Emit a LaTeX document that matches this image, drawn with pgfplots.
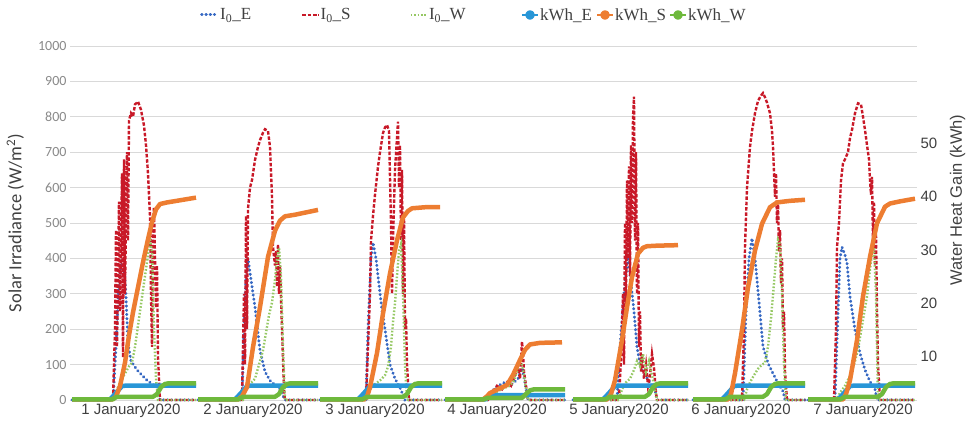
\documentclass[border=0pt]{standalone}
\usepackage{pgfplots}
\pgfplotsset{compat=1.18}
\usepackage{fontspec}
\setmainfont{Liberation Sans}
\newfontfamily\carlito{Carlito}
\newfontfamily\legendfont{Liberation Serif}

\definecolor{IEblue}{RGB}{55,105,195}
\definecolor{ISred}{RGB}{200,25,40}
\definecolor{IWgreen}{RGB}{150,200,100}
\definecolor{kEblue}{RGB}{40,150,215}
\definecolor{kSorange}{RGB}{237,125,49}
\definecolor{kWgreen}{RGB}{110,185,60}
\definecolor{GridGrey}{RGB}{217,217,217}
\definecolor{TickGrey}{RGB}{137,137,137}
\definecolor{TextDark}{RGB}{64,64,64}

\tikzset{
  ieline/.style={IEblue, line width=3pt, dash pattern=on 0.4pt off 3.8pt, line cap=round},
  isline/.style={ISred, line width=2.4pt, dash pattern=on 3.5pt off 1.8pt},
  iwline/.style={IWgreen, line width=2.4pt, dash pattern=on 1.6pt off 1.8pt},
  kwh/.style={line width=4.5pt, line join=round},
}
\pgfplotsset{
  shortlegend/.style={legend image code/.code={\draw[##1] (0pt,0pt) -- (16pt,0pt);}},
  kwhlegend/.style={legend image code/.code={%
    \draw[##1, line width=2pt] (0pt,0pt) -- (16pt,0pt);
    \fill[##1] (8pt,0pt) circle (2.5pt);}},
}

\begin{document}
\begin{tikzpicture}
\useasboundingbox (0,0) rectangle (970pt,427pt);
% left axis: irradiance
\begin{axis}[
  at={(70pt,27pt)}, anchor=south west, scale only axis,
  width=847pt, height=354pt,
  xmin=70, xmax=917, ymin=0, ymax=1000,
  ytick={0,100,...,1000},
  xtick={131,253,375,497,619,741,863},
  xticklabels={1 January2020,2 January2020,3 January2020,4 January2020,5 January2020,6 January2020,7 January2020},
  ymajorgrids, grid style={GridGrey, line width=0.8pt},
  axis line style={draw=none}, major tick length=0pt,
  clip=false, unbounded coords=jump,
  /pgf/number format/assume math mode=true, /pgf/number format/1000 sep={},
  yticklabel style={font=\carlito\fontsize{14}{14}\selectfont, text=TickGrey},
  xticklabel style={font=\fontsize{15}{15}\selectfont, text=TextDark},
  ylabel={Solar Irradiance (W/m\textsuperscript{2})},
  ylabel style={font=\carlito\fontsize{18.5}{18.5}\selectfont, text=TextDark,
    at={(axis description cs:-0.0645,0.5)}, anchor=center},
]
\addplot[ieline] coordinates {
(72,0) (113,0) (116,150) (119,330) (122,400) (124,390) (126,290) (128,160) (131,110) (137,85) (142,70) (147,56) (152,45) (157,37) (160,0) (196,0) (197,nan)
(198,0) (242,0) (244,200) (246,350) (248,400) (251,340) (255,262) (260,140) (265,80) (270,55) (275,42) (280,30) (285,0) (318,0) (319,nan)
(320,0) (366,0) (368,200) (371,400) (373,445) (376,400) (378,350) (382,254) (385,200) (387,160) (390,100) (395,60) (400,35) (405,0) (442,0) (443,nan)
(445,0) (488,0) (492,25) (498,40) (505,50) (512,45) (518,60) (522,90) (525,50) (528,0) (565,0) (566,nan)
(573,0) (617,0) (620,150) (624,300) (628,410) (631,330) (634,250) (637,150) (640,100) (645,70) (650,50) (655,30) (657,0) (688,0) (689,nan)
(693,0) (743,0) (746,250) (749,400) (752,457) (755,400) (757,340) (760,246) (763,151) (768,104) (773,75) (778,47) (783,25) (785,0) (805,0) (806,nan)
(808,0) (835,0) (838,250) (840,400) (842,432) (845,410) (847,386) (850,292) (855,198) (860,132) (865,85) (870,52) (875,30) (877,0) (915,0)
};
\addplot[isline] coordinates {
(72,0) (113,0) (115,200) (116,480) (117,150) (119,560) (120,250) (122,640) (123,120) (124,680) (125,300) (127,700) (128,450) (129,790) (131,810) (133,800) (135,835) (138,843) (141,820) (144,775) (146,720) (148,640) (150,520) (151,300) (152,150) (153,480) (154,545) (155,400) (156,260) (157,380) (158,120) (160,0) (196,0) (197,nan)
(198,0) (242,0) (244,300) (245,100) (246,520) (247,200) (248,540) (250,600) (252,621) (255,678) (258,715) (260,734) (263,755) (265,765) (268,760) (270,715) (272,574) (273,432) (275,380) (276,420) (277,320) (278,440) (279,300) (280,380) (282,200) (284,30) (285,0) (318,0) (319,nan)
(320,0) (366,0) (368,150) (370,300) (371,450) (373,520) (375,580) (378,659) (380,700) (383,754) (385,770) (387,777) (389,760) (391,500) (392,300) (393,450) (395,650) (397,740) (398,786) (399,600) (400,720) (401,450) (402,650) (403,300) (404,520) (405,200) (406,230) (407,100) (409,0) (442,0) (443,nan)
(445,0) (488,0) (492,20) (497,40) (502,30) (507,50) (511,40) (515,70) (518,90) (520,60) (522,165) (523,130) (524,80) (526,40) (528,0) (565,0) (566,nan)
(573,0) (619,0) (621,120) (623,300) (624,100) (625,500) (626,250) (627,620) (628,400) (629,660) (630,350) (631,720) (632,500) (633,800) (634,857) (635,450) (636,700) (637,300) (638,500) (639,150) (640,250) (641,80) (642,130) (644,60) (646,100) (648,40) (650,70) (652,130) (654,90) (656,20) (657,0) (688,0) (689,nan)
(693,0) (742,0) (744,200) (745,432) (747,600) (750,715) (752,760) (755,810) (758,845) (761,860) (763,867) (765,855) (767,840) (770,810) (772,760) (773,715) (775,574) (776,640) (777,500) (778,560) (779,420) (780,480) (781,330) (782,400) (783,200) (784,250) (785,80) (787,0) (805,0) (806,nan)
(808,0) (834,0) (836,200) (837,432) (839,500) (841,620) (843,669) (845,680) (848,700) (850,740) (852,763) (855,810) (858,838) (861,835) (863,800) (865,763) (867,720) (869,680) (870,621) (871,580) (872,630) (873,450) (874,560) (875,380) (876,470) (877,250) (878,100) (880,0) (915,0)
};
\addplot[iwline] coordinates {
(72,0) (114,0) (117,30) (121,55) (125,75) (129,95) (132,105) (135,150) (138,210) (141,270) (144,330) (147,390) (150,452) (152,420) (154,200) (156,60) (158,0) (196,0) (197,nan)
(198,0) (243,0) (246,30) (250,45) (255,60) (260,110) (263,140) (266,190) (269,240) (272,275) (275,340) (277,400) (279,430) (281,350) (283,150) (285,0) (318,0) (319,nan)
(320,0) (367,0) (370,30) (375,45) (380,55) (385,70) (388,94) (391,150) (393,220) (395,273) (397,350) (399,420) (401,440) (403,300) (405,100) (407,0) (442,0) (443,nan)
(445,0) (488,0) (492,15) (498,25) (505,35) (510,40) (514,55) (517,80) (520,113) (522,100) (524,70) (526,30) (528,0) (565,0) (566,nan)
(573,0) (619,0) (622,30) (626,50) (630,60) (634,85) (637,110) (640,95) (643,130) (646,80) (649,110) (652,70) (655,30) (657,0) (688,0) (689,nan)
(693,0) (744,0) (747,30) (750,50) (754,70) (758,88) (762,100) (765,105) (768,150) (771,230) (774,330) (776,400) (778,452) (780,440) (782,300) (784,100) (786,0) (805,0) (806,nan)
(808,0) (836,0) (840,20) (845,40) (850,68) (855,110) (858,143) (862,210) (865,260) (867,292) (870,370) (872,414) (874,430) (876,300) (878,0) (915,0)
};
\end{axis}
% right axis: water heat gain
\begin{axis}[
  at={(70pt,27pt)}, anchor=south west, scale only axis,
  width=847pt, height=354pt,
  xmin=70, xmax=917, ymin=1.9, ymax=68.2,
  axis x line=none, axis y line*=right,
  axis line style={draw=none}, major tick length=0pt,
  ytick={10,20,30,40,50},
  clip=false, unbounded coords=jump,
  /pgf/number format/assume math mode=true,
  yticklabel style={font=\fontsize{15}{15}\selectfont, text=TextDark},
  ylabel={Water Heat Gain (kWh)},
  ylabel style={font=\fontsize{16.5}{16.5}\selectfont, text=TextDark,
    at={(axis description cs:1.048,0.565)}, anchor=center},
  legend columns=6,
  legend style={at={(0.1535,1)}, anchor=west, yshift=31pt, draw=none, fill=none,
    font=\legendfont\fontsize{17}{17}\selectfont, text=TextDark,
    column sep=0pt, inner sep=0pt, nodes={inner sep=1pt}},
  shortlegend,
]
\addlegendimage{ieline}
\addlegendentry{\makebox[80pt][l]{I\textsubscript{0}\_E}}
\addlegendimage{isline}
\addlegendentry{\makebox[88pt][l]{I\textsubscript{0}\_S}}
\addlegendimage{iwline}
\addlegendentry{\makebox[91pt][l]{I\textsubscript{0}\_W}}
\addplot[kwh, kEblue, kwhlegend] coordinates {
(72,2) (110,2) (116,3.2) (122,4.5) (126,4.6) (196,4.6) (197,nan)
(198,2) (235,2) (241,3.2) (247,4.5) (251,4.6) (318,4.6) (319,nan)
(320,2) (358,2) (364,3.2) (370,4.5) (374,4.6) (442,4.6) (443,nan)
(445,2) (485,2) (490,2.6) (495,2.8) (565,2.8) (566,nan)
(573,2) (603,2) (609,3.2) (615,4.5) (619,4.6) (688,4.6) (689,nan)
(693,2) (722,2) (728,3.2) (734,4.5) (738,4.6) (805,4.6) (806,nan)
(808,2) (838,2) (844,3.2) (850,4.5) (854,4.6) (915,4.6)
};
\addlegendentry{\makebox[55pt][l]{kWh\_E}}
\addplot[kwh, kSorange, kwhlegend] coordinates {
(72,2) (112,2) (116,2.5) (120,4.5) (125,8.9) (129,14) (133,18.3) (138,23) (143,27.7) (148,32) (152,35.2) (156,37.6) (160,38.6) (167,38.9) (180,39.3) (196,39.8) (197,nan)
(198,2) (238,2) (242,2.6) (247,4.3) (253,11.8) (260,19.3) (268,28.7) (275,33.6) (280,35.5) (285,36.3) (295,36.6) (318,37.5) (319,nan)
(320,2) (364,2) (367,2.5) (370,4.3) (377,10.7) (383,18.1) (390,25.6) (397,31.8) (403,36.1) (408,37.3) (412,37.8) (425,38.0) (440,38.0) (443,nan)
(445,2) (483,2) (487,2.6) (490,3.2) (500,4.1) (507,4.7) (513,6.6) (520,9.4) (525,11.3) (530,12.3) (540,12.6) (562,12.7) (566,nan)
(573,2) (607,2) (611,3.0) (615,5.6) (622,13.1) (627,19.3) (632,24.9) (638,29.3) (643,30.4) (647,30.7) (657,30.8) (678,30.9) (689,nan)
(693,2) (728,2) (731,3.0) (735,6.9) (742,15.0) (748,23.0) (755,29.9) (762,34.9) (770,38.0) (777,38.9) (790,39.2) (805,39.4) (806,nan)
(808,2) (843,2) (846,3.0) (850,5.6) (857,13.1) (863,21.3) (870,28.7) (877,35.0) (885,38.1) (890,38.7) (900,39.1) (915,39.6)
};
\addlegendentry{\makebox[53pt][l]{kWh\_S}}
\addplot[kwh, kWgreen, kwhlegend] coordinates {
(72,2) (112,2) (117,2.5) (153,2.5) (157,3.0) (161,4.3) (165,4.9) (168,5.0) (196,5.0) (197,nan)
(198,2) (238,2) (243,2.5) (275,2.5) (279,3.0) (283,4.3) (287,4.9) (290,5.0) (318,5.0) (319,nan)
(320,2) (362,2) (367,2.5) (403,2.5) (407,3.0) (411,4.3) (415,4.9) (418,5.0) (442,5.0) (443,nan)
(445,2) (483,2) (488,2.3) (522,2.3) (526,3.0) (530,3.7) (534,3.9) (565,3.9) (566,nan)
(573,2) (605,2) (610,2.5) (645,2.5) (649,3.0) (653,4.3) (657,4.9) (660,5.0) (688,5.0) (689,nan)
(693,2) (725,2) (730,2.5) (763,2.5) (767,3.0) (771,4.3) (775,4.9) (778,5.0) (805,5.0) (806,nan)
(808,2) (840,2) (845,2.5) (878,2.5) (882,3.0) (886,4.3) (890,4.9) (893,5.0) (915,5.0)
};
\addlegendentry{kWh\_W}
\end{axis}
\end{tikzpicture}
\end{document}
